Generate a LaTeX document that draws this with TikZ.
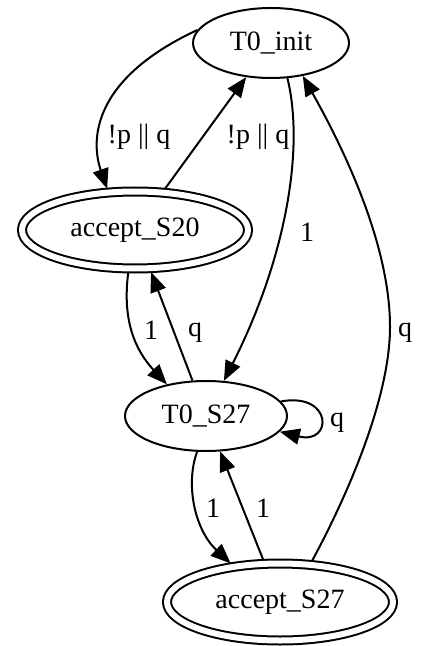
\documentclass[tikz,border=0pt]{standalone}
\usepackage{fontspec}
\setmainfont{Liberation Serif}
\usetikzlibrary{arrows.meta,shapes.geometric}
\begin{document}
\begin{tikzpicture}[x=0.5pt,y=-0.5pt,
  state/.style={ellipse,draw,line width=1pt,inner sep=0pt,minimum height=35pt,
    font=\fontsize{14pt}{16pt}\selectfont},
  accepting/.style={state,double,double distance=3pt,minimum width=113pt,
    minimum height=38.5pt,outer sep=2pt},
  edge/.style={line width=1pt,-{Triangle[length=10pt,width=8pt]}},
  lbl/.style={inner sep=0pt,font=\fontsize{14pt}{16pt}\selectfont}]
\useasboundingbox (0,0) rectangle (420,646);

% states
\node[state,minimum width=78pt] (init)  at (271,43)  {T0\_init};
\node[accepting]                (s20)   at (135,230) {accept\_S20};
\node[state,minimum width=81pt] (t0s27) at (206,416) {T0\_S27};
\node[accepting]                (s27)   at (280,602) {accept\_S27};

% transitions
\draw[edge] (init.170) .. controls (90,80) and (91,142) .. (s20.124);
\draw[edge] (s20) -- (init);
\draw[edge] (init.-65) .. controls (305,150) and (285,260) .. (t0s27.63);
\draw[edge] (s27.52) .. controls (345,500) and (390,400) .. (390,327)
                     .. controls (390,250) and (350,160) .. (init.-46);
\draw[edge] (s20.-99) .. controls (122,320) and (135,350) .. (t0s27.141);
\draw[edge] (t0s27) -- (s20);
\draw[edge] (t0s27.11) .. controls (333,392) and (333,445) .. (t0s27.-12);
\draw[edge] (t0s27.-104) .. controls (185,485) and (195,530) .. (s27.142);
\draw[edge] (s27) -- (t0s27);

% transition labels
\node[lbl] (l1) at (139,137) {!p || q};
\node[lbl] (l2) at (258,137) {!p || q};
\node[lbl] (l3) at (307,232) {1};
\node[lbl] (l4) at (405,333) {q};
\node[lbl] (l5) at (151,330) {1};
\node[lbl] (l6) at (195,333) {q};
\node[lbl] (l7) at (337,423) {q};
\node[lbl] (l8) at (213,508) {1};
\node[lbl] (l9) at (263,508) {1};
\end{tikzpicture}
\end{document}
